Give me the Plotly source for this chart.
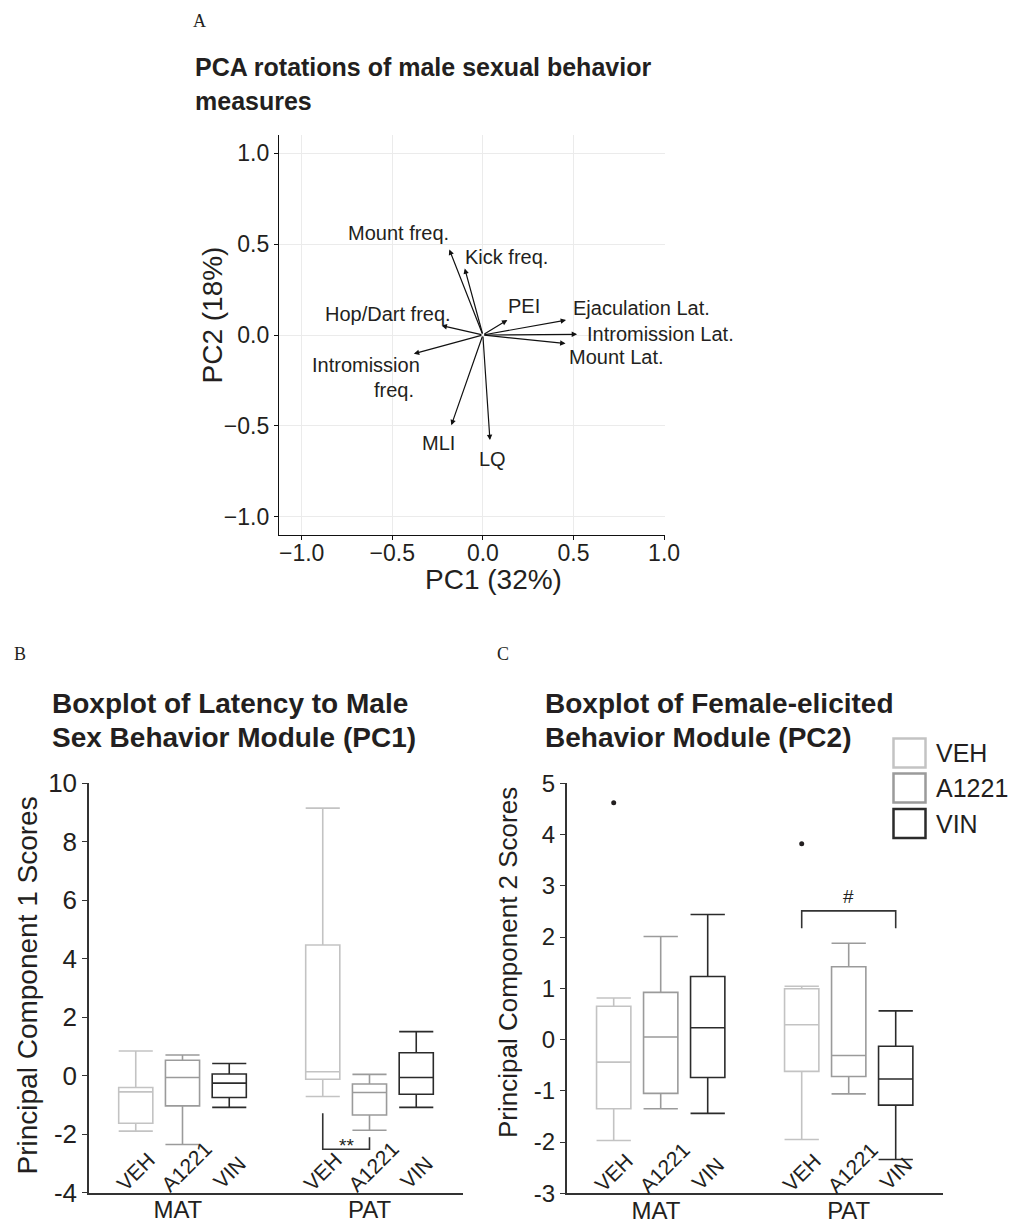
import plotly.graph_objects as go

W, H = 1011, 1228
FONT = "Liberation Sans, Arial, Helvetica, sans-serif"
SERIF = "Liberation Serif, Times New Roman, serif"
INK = "#231f20"

# ---------------- Panel A data (PCA rotations) ----------------
variables = ["Mount freq.", "Kick freq.", "PEI", "Ejaculation Lat.", "Intromission Lat.",
             "Mount Lat.", "Hop/Dart freq.", "Intromission freq.", "MLI", "LQ"]
pc1_loadings = [-0.185, -0.100, 0.135, 0.459, 0.520, 0.456, -0.228, -0.381, -0.174, 0.039]
pc2_loadings = [0.470, 0.366, 0.082, 0.082, 0.004, -0.047, 0.052, -0.103, -0.496, -0.578]
# label text lines and where their centres sit (data units)
label_text = ["Mount freq.", "Kick freq.", "PEI", "Ejaculation Lat.", "Intromission Lat.",
              "Mount Lat.", "Hop/Dart freq.", "Intromission", "freq.", "MLI", "LQ"]
label_x = [-0.466, 0.132, 0.228, 0.875, 0.982, 0.740, -0.523, -0.644, -0.488, -0.246, 0.053]
label_y = [0.560, 0.427, 0.159, 0.151, 0.004, -0.121, 0.116, -0.164, -0.302, -0.595, -0.681]
pca_ticks = [-1.0, -0.5, 0.0, 0.5, 1.0]

# ---------------- Panel B / C data (boxplot statistics) ----------------
groups = ["MAT", "PAT"]
treatments = ["VEH", "A1221", "VIN"]
treat_colors = {"VEH": "#c3c3c3", "A1221": "#9b9b9b", "VIN": "#2b2b2b"}

# order: MAT-VEH, MAT-A1221, MAT-VIN, PAT-VEH, PAT-A1221, PAT-VIN
pc1_upper = [0.84, 0.70, 0.41, 9.14, 0.04, 1.50]
pc1_q3 = [-0.41, 0.52, 0.05, 4.46, -0.29, 0.78]
pc1_median = [-0.56, -0.07, -0.26, 0.13, -0.58, -0.07]
pc1_q1 = [-1.63, -1.04, -0.75, -0.13, -1.35, -0.64]
pc1_lower = [-1.90, -2.36, -1.09, -0.72, -1.87, -1.09]
pc1_ticks = [-4, -2, 0, 2, 4, 6, 8, 10]

pc2_upper = [0.81, 2.01, 2.44, 1.04, 1.88, 0.56]
pc2_q3 = [0.65, 0.92, 1.23, 0.99, 1.42, -0.13]
pc2_median = [-0.44, 0.05, 0.23, 0.29, -0.31, -0.77]
pc2_q1 = [-1.35, -1.05, -0.74, -0.62, -0.72, -1.28]
pc2_lower = [-1.97, -1.35, -1.44, -1.95, -1.06, -2.34]
pc2_outlier_box = [0, 3]          # MAT-VEH, PAT-VEH
pc2_outlier_val = [4.62, 3.82]
pc2_ticks = [-3, -2, -1, 0, 1, 2, 3, 4, 5]

# significance brackets: (box index left, box index right, left drop top, right drop top, bar y, label)
sig_B = (3, 4, -1.29, -2.11, -2.52, "**")
sig_C = (3, 5, 2.17, 2.17, 2.51, "#")


def box_pos(i):
    g, t = divmod(i, 3)
    return g * 4 + t + 1


def px(xp):
    return xp / W


def py(yp):
    return 1 - yp / H


fig = go.Figure()
ann = []
shapes = []

# ---------------- Panel A ----------------
for i, v in enumerate(variables):
    ann.append(dict(x=pc1_loadings[i], y=pc2_loadings[i], ax=0, ay=0, xref="x", yref="y",
                    axref="x", ayref="y", text="", showarrow=True, arrowhead=2,
                    arrowsize=0.9, arrowwidth=1.2, arrowcolor="#111", standoff=0))
for t, x, y in zip(label_text, label_x, label_y):
    ann.append(dict(x=x, y=y, xref="x", yref="y", text=t, showarrow=False,
                    xanchor="center", yanchor="middle",
                    font=dict(size=20, color=INK, family=FONT)))
# invisible trace so the axes render
fig.add_trace(go.Scatter(x=pc1_loadings, y=pc2_loadings, mode="markers",
                         marker=dict(size=1, color="rgba(0,0,0,0)"),
                         xaxis="x", yaxis="y", showlegend=False, hoverinfo="skip"))

# ---------------- Panels B and C ----------------
def add_boxes(upper, q3, med, q1, lower, xa, ya):
    for i in range(6):
        tr = treatments[i % 3]
        fig.add_trace(go.Box(
            x=[box_pos(i)], q1=[q1[i]], median=[med[i]], q3=[q3[i]],
            lowerfence=[lower[i]], upperfence=[upper[i]], width=0.73,
            whiskerwidth=1, boxpoints=False, fillcolor="white",
            line=dict(color=treat_colors[tr], width=1.6),
            xaxis=xa, yaxis=ya, showlegend=False, hoverinfo="skip"))


add_boxes(pc1_upper, pc1_q3, pc1_median, pc1_q1, pc1_lower, "x2", "y2")
add_boxes(pc2_upper, pc2_q3, pc2_median, pc2_q1, pc2_lower, "x3", "y3")

fig.add_trace(go.Scatter(x=[box_pos(i) for i in pc2_outlier_box], y=pc2_outlier_val,
                         mode="markers", marker=dict(size=5, color=INK),
                         xaxis="x3", yaxis="y3", showlegend=False, hoverinfo="skip"))


def add_bracket(sig, xa, ya, label_up):
    il, ir, yl, yr, yb, lab = sig
    xl, xr = box_pos(il), box_pos(ir)
    fig.add_trace(go.Scatter(x=[xl, xl, xr, xr], y=[yl, yb, yb, yr], mode="lines",
                             line=dict(color="#333", width=1.6), xaxis=xa, yaxis=ya,
                             showlegend=False, hoverinfo="skip"))
    ann.append(dict(x=(xl + xr) / 2, y=yb, xref=xa, yref=ya, text=lab, showarrow=False,
                    xanchor="center", yanchor="bottom" if label_up else "top",
                    yshift=2 if label_up else 16,
                    font=dict(size=19, color=INK, family=FONT)))


add_bracket(sig_B, "x2", "y2", False)
add_bracket(sig_C, "x3", "y3", True)

# rotated treatment labels inside the plot, just above the x axis
label_shift = {"VEH": (0, 21), "A1221": (4, 26), "VIN": (0, 20)}
for xa, ya, ymin in [("x2", "y2", pc1_ticks[0]), ("x3", "y3", pc2_ticks[0])]:
    for i in range(6):
        tr = treatments[i % 3]
        dx, dy = label_shift[tr]
        ann.append(dict(x=box_pos(i), y=ymin, xref=xa, yref=ya, text=tr, showarrow=False,
                        textangle=-45, xanchor="center", yanchor="middle",
                        xshift=dx, yshift=dy,
                        font=dict(size=21, color=INK, family=FONT)))

# ---------------- titles, panel letters, axis titles ----------------
def text_px(t, x, y, size, bold=False, family=FONT, angle=0, anchor="left"):
    ann.append(dict(x=px(x), y=py(y), xref="paper", yref="paper",
                    text=f"<b>{t}</b>" if bold else t, showarrow=False,
                    xanchor=anchor, yanchor="middle", textangle=angle,
                    font=dict(size=size, color=INK, family=family)))


text_px("A", 199.5, 21.5, 18, family=SERIF, anchor="center")
text_px("B", 19.5, 653.5, 18, family=SERIF, anchor="center")
text_px("C", 503, 653.5, 18, family=SERIF, anchor="center")

text_px("PCA rotations of male sexual behavior", 193, 67.5, 25, bold=True)
text_px("measures", 193, 101, 25, bold=True)
text_px("Boxplot of Latency to Male", 50, 703.5, 28, bold=True)
text_px("Sex Behavior Module (PC1)", 50, 737, 28, bold=True)
text_px("Boxplot of Female-elicited", 543, 703.5, 28, bold=True)
text_px("Behavior Module (PC2)", 543, 737, 28, bold=True)

text_px("PC2 (18%)", 211.5, 315, 28, angle=-90, anchor="center")
text_px("PC1 (32%)", 493, 579, 28, anchor="center")
text_px("Principal Component 1 Scores", 27, 985.5, 28, angle=-90, anchor="center")
text_px("Principal Component 2 Scores", 508, 963, 26, angle=-90, anchor="center")

# legend for panel C (treatment key)
leg_top = [738.5, 773.5, 809]
for tr, top in zip(treatments, leg_top):
    shapes.append(dict(type="rect", xref="paper", yref="paper",
                       x0=px(893.5), x1=px(925.5), y0=py(top + 29), y1=py(top),
                       line=dict(color=treat_colors[tr], width=2.5), fillcolor="white"))
    text_px(tr, 934, top + 14.5, 25)

# ---------------- axes ----------------
axA = dict(showgrid=True, gridcolor="#ebebeb", gridwidth=1, zeroline=False, showline=True,
           linecolor="#111", linewidth=1.3, ticks="outside", ticklen=4, tickcolor="#111",
           tickvals=pca_ticks, tickformat=".1f", tickfont=dict(size=23, color=INK),
           fixedrange=True, automargin=False)

boxy = dict(showgrid=False, zeroline=False, showline=True, linecolor="#333", linewidth=1.5,
            ticks="outside", ticklen=5, tickcolor="#333", automargin=False)
boxx = dict(showgrid=False, zeroline=False, showline=True, linecolor="#333", linewidth=1.5,
            ticks="", range=[0, 8], tickvals=[1.9, 6], ticktext=groups, automargin=False,
            ticklabelstandoff=-5, tickfont=dict(size=24, color=INK))

fig.update_layout(
    width=W, height=H, margin=dict(l=0, r=0, t=0, b=0, autoexpand=False),
    paper_bgcolor="white", plot_bgcolor="white",
    font=dict(family=FONT, color=INK),
    showlegend=False,
    xaxis=dict(axA, domain=[px(279), px(665)], range=[-1.125, 1.005], anchor="y",
               ticklabelstandoff=-7),
    yaxis=dict(axA, domain=[py(535), py(135)], range=[-1.1, 1.1], anchor="x"),
    xaxis2=dict(boxx, domain=[px(89), px(463)], anchor="y2"),
    yaxis2=dict(boxy, domain=[py(1192.5), py(783)], range=[-4, 10], anchor="x2",
                tickvals=pc1_ticks, ticktext=[str(v) for v in pc1_ticks],
                tickfont=dict(size=26, color=INK)),
    xaxis3=dict(boxx, domain=[px(566.7), px(942.7)], anchor="y3"),
    yaxis3=dict(boxy, domain=[py(1193.3), py(783.3)], range=[-3, 5], anchor="x3",
                tickvals=pc2_ticks, ticktext=[str(v) for v in pc2_ticks],
                tickfont=dict(size=24, color=INK)),
    annotations=ann,
    shapes=shapes,
)

fig.write_html("out.html")
